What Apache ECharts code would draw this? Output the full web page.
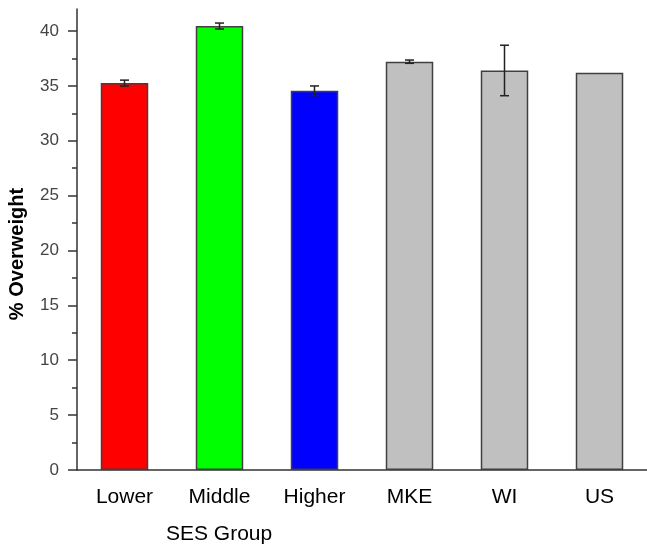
<!DOCTYPE html>
<html lang="en">
<head>
    <meta charset="UTF-8">
    <title>SES Group</title>
    <script src="https://cdn.jsdelivr.net/npm/echarts@6/dist/echarts.min.js"></script>
</head>
<body style="margin:0">
    <div id="main" style="width: 647px;height: 546px"></div>
    <script type="text/javascript">
        var categories = ['Lower', 'Middle', 'Higher', 'MKE', 'WI', 'US'];
        var values = [35.25, 40.45, 34.55, 37.2, 36.4, 36.2];
        var errors = [0.27, 0.27, 0.44, 0.15, 2.3, 0];
        var barColors = ['#ff0000', '#00ff00', '#0000ff', '#c0c0c0', '#c0c0c0', '#c0c0c0'];
        var yTicks = [0, 5, 10, 15, 20, 25, 30, 35, 40];
        var yMinorTicks = [2.5, 7.5, 12.5, 17.5, 22.5, 27.5, 32.5, 37.5];

        var font = 'Liberation Sans, Arial, sans-serif';

        var barData = values.map(function (v, i) {
            return { value: v, itemStyle: { color: barColors[i] } };
        });
        var errData = [];
        for (var i = 0; i < values.length; i++) {
            if (errors[i] > 0) {
                errData.push([i, values[i] - errors[i], values[i] + errors[i]]);
            }
        }

        option = {
            animation: false,
            backgroundColor: '#fff',
            grid: { left: 77, right: -9, top: 9, bottom: 76, containLabel: false },
            xAxis: [
                {
                    type: 'category',
                    data: categories,
                    position: 'bottom',
                    axisLine: { lineStyle: { color: '#333', width: 1.5 } },
                    axisTick: { alignWithLabel: true, length: 9, lineStyle: { color: '#333', width: 1.5 } },
                    axisLabel: { fontFamily: font, fontSize: 21, color: '#000', margin: 17 }
                },
                {
                    type: 'category',
                    data: categories,
                    position: 'bottom',
                    axisLine: { show: false },
                    axisTick: { length: 5, lineStyle: { color: '#333', width: 1.5 } },
                    axisLabel: { show: false }
                }
            ],
            yAxis: [
                {
                    type: 'value',
                    min: 0,
                    max: 42,
                    interval: 5,
                    position: 'left',
                    axisLine: { show: true, lineStyle: { color: '#333', width: 1.5 } },
                    axisTick: { show: true, length: 9, customValues: yTicks, lineStyle: { color: '#333', width: 1.5 } },
                    axisLabel: { fontFamily: font, fontSize: 17, color: '#444', margin: 18, customValues: yTicks },
                    splitLine: { show: false }
                },
                {
                    type: 'value',
                    min: 0,
                    max: 42,
                    interval: 5,
                    position: 'left',
                    axisLine: { show: false },
                    axisTick: { show: true, length: 5, customValues: yMinorTicks, lineStyle: { color: '#333', width: 1.5 } },
                    axisLabel: { show: false },
                    splitLine: { show: false }
                }
            ],
            graphic: [
                {
                    type: 'text',
                    left: 166,
                    top: 524,
                    style: { text: 'SES Group', font: '21px ' + font, fill: '#000' }
                },
                {
                    type: 'text',
                    x: 17,
                    y: 254,
                    rotation: Math.PI / 2,
                    style: {
                        text: '% Overweight',
                        font: 'bold 20px ' + font,
                        fill: '#000',
                        textAlign: 'center',
                        textVerticalAlign: 'middle'
                    }
                }
            ],
            series: [
                {
                    type: 'bar',
                    data: barData,
                    barWidth: '50%',
                    itemStyle: { borderColor: '#404040', borderWidth: 1.5 }
                },
                {
                    type: 'custom',
                    data: errData,
                    z: 5,
                    renderItem: function (params, api) {
                        var lo = api.coord([api.value(0), api.value(1)]);
                        var hi = api.coord([api.value(0), api.value(2)]);
                        var w = 4.5;
                        var st = { stroke: '#222', lineWidth: 1.5 };
                        return {
                            type: 'group',
                            children: [
                                { type: 'line', shape: { x1: lo[0], y1: lo[1], x2: hi[0], y2: hi[1] }, style: st },
                                { type: 'line', shape: { x1: lo[0] - w, y1: lo[1], x2: lo[0] + w, y2: lo[1] }, style: st },
                                { type: 'line', shape: { x1: hi[0] - w, y1: hi[1], x2: hi[0] + w, y2: hi[1] }, style: st }
                            ]
                        };
                    }
                }
            ]
        };

        var myChart = echarts.init(document.getElementById('main'));
        myChart.setOption(option);
    </script>
</body>
</html>
